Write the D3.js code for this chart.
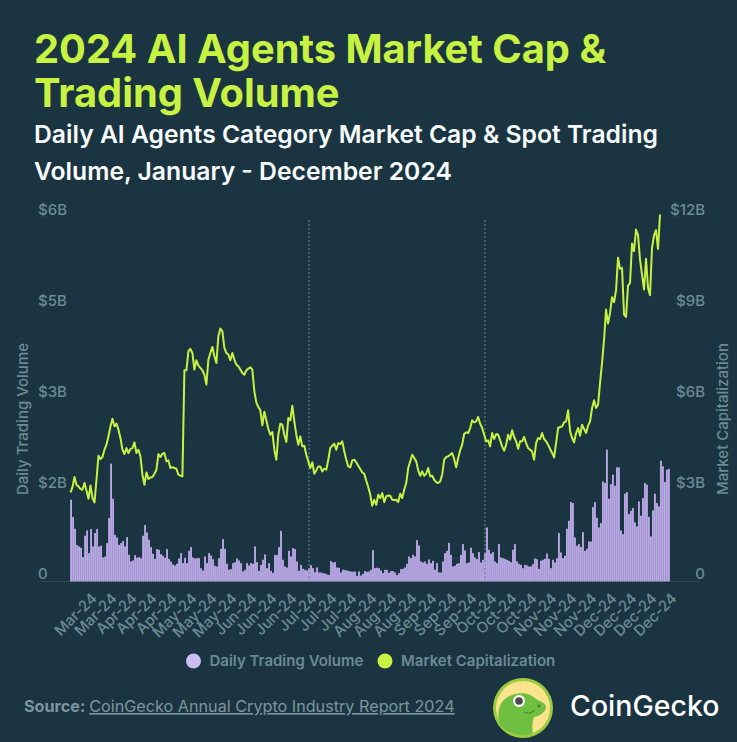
<!DOCTYPE html>
<html>
<head>
<meta charset="utf-8">
<script src="https://cdn.jsdelivr.net/npm/d3@7"></script>
<style>
  html, body { margin: 0; padding: 0; background: #1a3541; }
  svg { display: block; font-family: Inter, "Noto Sans", sans-serif; }
</style>
</head>
<body>
<div id="canvas"></div>
<script>
// Daily trading volume, $M, one value per day
const volume = [
  1348,1062,869,600,578,556,402,754,842,468,864,578,798,864,578,589,396,413,633,1045,
  1942,1364,770,726,605,633,666,578,732,440,330,347,435,391,402,385,754,930,809,688,
  567,457,374,534,523,451,424,391,534,374,330,281,264,292,380,468,303,391,303,506,
  567,396,380,385,385,220,182,413,303,468,429,369,259,248,385,539,699,539,292,193,
  204,303,319,380,347,303,165,193,303,264,303,292,578,319,176,275,358,446,220,303,
  176,143,440,435,567,836,358,248,231,506,413,550,534,330,176,275,209,193,182,220,
  270,220,154,231,149,149,138,132,116,110,336,314,319,231,226,149,193,187,182,171,
  165,160,165,94,165,99,127,171,160,165,193,517,220,226,220,182,138,193,193,143,
  171,171,149,105,138,204,209,231,292,413,385,440,413,682,594,330,314,330,292,363,
  303,341,193,303,149,149,330,468,506,638,440,248,259,292,303,440,616,512,303,314,
  556,468,396,369,484,314,358,468,891,523,457,484,330,303,616,396,385,374,358,341,
  319,523,616,330,292,275,220,275,264,248,248,286,380,369,209,341,358,374,462,374,
  220,358,314,385,798,479,385,424,869,1001,1309,1293,726,589,616,567,814,506,539,660,
  660,1227,1309,1051,891,963,1650,1623,2173,1364,1606,1760,1579,1881,1881,842,781,1447,1474,1111,
  1166,1210,974,908,1320,1084,1375,1623,1595,1062,743,1172,1447,1293,1238,1991,1898,1639,1843,1854
];

// Market cap, $M, the line stops a few days before the bars do
const marketCap = [
  2937,3113,3443,3179,3135,3047,3025,3245,3003,2728,3168,2750,2607,3355,4147,4037,4103,4345,4510,4785,
  5115,5368,5115,5203,5005,4730,4345,4202,4400,4235,4367,4400,4587,4235,4345,4125,3520,3190,3597,3377,
  3432,3443,3553,3685,4202,4103,4213,4235,3960,3993,3740,3773,3740,3718,3520,3487,3465,6963,6963,7590,
  7667,7535,6985,7293,7128,7040,6963,6820,6490,7315,7535,7733,7425,7205,8085,8338,8250,7700,7535,7480,
  7293,7535,7315,7150,7095,6985,6875,6820,6963,7018,7062,6985,6270,5907,5753,5643,5148,5599,5313,5027,
  4840,4928,4345,4015,4840,5203,5170,4840,4598,5390,5313,5797,5280,4840,4510,4785,4455,4477,4180,3960,
  3740,3927,3553,3663,3795,3795,3630,3718,3685,4015,4400,4477,4543,4345,4565,4532,4620,4290,4015,3795,
  3762,3993,4015,3927,3817,3707,3597,3553,3322,3113,2860,2497,2695,2530,2860,2750,2915,2618,2805,2838,
  2827,2695,2684,2695,2618,2893,2750,3025,3245,3740,3960,4180,4070,3960,3663,3487,3630,3487,3553,3740,
  3465,3487,3355,3278,3245,3300,3520,4015,4103,4125,4180,4235,4037,3762,4070,4323,4510,4862,4917,4895,
  5060,5313,5247,5280,5423,5203,5060,4840,4620,4653,4455,4895,4697,4862,4840,4653,4455,4312,4510,4840,
  4675,4983,4763,4620,4378,4620,4620,4763,4565,4400,4345,4290,4015,4565,4730,4697,4895,4697,4620,4510,
  4367,4235,4092,4565,5060,5093,5115,5247,5280,5643,4950,4730,4587,4895,5060,4807,5170,5027,4895,5137,
  5280,5720,5973,5720,5830,6545,7205,7975,8965,8503,8855,9372,9207,9603,10670,10307,10340,8800,8723,9757,
  9845,11143,10890,11605,11418,10615,10120,9625,10637,9680,9438,11000,11407,11583,10967,12100
];

// one x label every 10 days
const tickLabels = [
  "Mar-24","Mar-24","Apr-24","Apr-24","Apr-24","May-24","May-24","May-24","Jun-24","Jun-24",
  "Jun-24","Jul-24","Jul-24","Jul-24","Aug-24","Aug-24","Aug-24","Sep-24","Sep-24","Sep-24",
  "Oct-24","Oct-24","Oct-24","Nov-24","Nov-24","Nov-24","Dec-24","Dec-24","Dec-24","Dec-24"
];
const volumeTicks = [0, 1500, 3000, 4500, 6000];
const volumeTickLabels = ["0", "$2B", "$3B", "$5B", "$6B"];
const capTicks = [0, 3000, 6000, 9000, 12000];
const capTickLabels = ["0", "$3B", "$6B", "$9B", "$12B"];
const markerDays = [119, 207]; // dashed lines
const legendItems = ["Daily Trading Volume", "Market Capitalization"];

const BG = "#1a3541", LIME = "#c8f241", LILAC = "#bcaae8", MUTED = "#6b8a95";

const width = 737, height = 742;
const svg = d3.select("#canvas").append("svg")
    .attr("width", width)
    .attr("height", height);

svg.append("rect").attr("width", width).attr("height", height).attr("fill", BG);

// ****************** titles ***************************
[["2024 AI Agents Market Cap &", 63], ["Trading Volume", 107]].forEach(function(t) {
  svg.append("text").attr("x", 34).attr("y", t[1])
      .attr("font-size", 39.8).attr("font-weight", 700).attr("fill", LIME).text(t[0]);
});
[["Daily AI Agents Category Market Cap & Spot Trading", 143], ["Volume, January - December 2024", 180]].forEach(function(t) {
  svg.append("text").attr("x", 34).attr("y", t[1])
      .attr("font-size", 24.7).attr("font-weight", 600).attr("fill", "#f8fbfc").text(t[0]);
});

// ****************** scales ***************************
const x = d3.scaleBand().domain(d3.range(volume.length)).range([70, 670]).padding(0.08);
const xLine = d3.scalePoint().domain(d3.range(marketCap.length)).range([70.5, 660]);
const yVol = d3.scaleLinear().domain([0, 6000]).range([581.5, 217.5]);
const yCap = d3.scaleLinear().domain([0, 12000]).range([581.5, 217.5]);

// ****************** axes ***************************
const axisText = function(g) {
  g.select(".domain").remove();
  g.selectAll(".tick line").remove();
  g.selectAll("text").attr("fill", MUTED).attr("font-family", "Inter").attr("font-size", 15).attr("font-weight", 500);
};

svg.append("g")
    .attr("transform", "translate(38,0)")
    .call(d3.axisLeft(yVol).tickValues(volumeTicks).tickFormat((d, i) => volumeTickLabels[i]))
    .call(axisText)
    .selectAll("text").attr("x", 0).attr("dy", "-0.2em").attr("text-anchor", "start");

svg.append("g")
    .attr("transform", "translate(705,0)")
    .call(d3.axisRight(yCap).tickValues(capTicks).tickFormat((d, i) => capTickLabels[i]))
    .call(axisText)
    .selectAll("text").attr("x", 0).attr("dy", "-0.2em").attr("text-anchor", "end");

svg.append("line")
    .attr("x1", 37).attr("x2", 701)
    .attr("y1", yVol(0)).attr("y2", yVol(0))
    .attr("stroke", "#2c4854").attr("stroke-width", 1);

const tickDays = tickLabels.map((d, i) => 9 + i * 10);
svg.append("g")
    .attr("transform", "translate(0,581.5)")
    .call(d3.axisBottom(x).tickValues(tickDays).tickFormat(d => tickLabels[(d - 9) / 10]))
    .call(axisText)
    .selectAll("text")
    .attr("text-anchor", "end")
    .attr("transform", "translate(-5,4) rotate(-45)");

svg.append("text")
    .attr("transform", "translate(28,419) rotate(-90)")
    .attr("text-anchor", "middle")
    .attr("font-size", 15).attr("font-weight", 500).attr("fill", MUTED)
    .text("Daily Trading Volume");

svg.append("text")
    .attr("transform", "translate(728,419) rotate(-90)")
    .attr("text-anchor", "middle")
    .attr("font-size", 15).attr("font-weight", 500).attr("fill", MUTED)
    .text("Market Capitalization");

// ****************** marks ***************************
svg.append("g").selectAll("rect")
    .data(volume)
    .enter().append("rect")
    .attr("x", (d, i) => x(i))
    .attr("width", x.bandwidth())
    .attr("y", d => yVol(d))
    .attr("height", d => yVol(0) - yVol(d))
    .attr("fill", LILAC);

svg.append("g").selectAll("line")
    .data(markerDays)
    .enter().append("line")
    .attr("x1", d => x(d) + x.bandwidth() / 2)
    .attr("x2", d => x(d) + x.bandwidth() / 2)
    .attr("y1", 220)
    .attr("y2", yVol(0))
    .attr("stroke", "#6d8a96")
    .attr("stroke-width", 1)
    .attr("stroke-dasharray", "2,2");

const line = d3.line()
    .x((d, i) => xLine(i))
    .y(d => yCap(d));

svg.append("path")
    .attr("d", line(marketCap))
    .attr("fill", "none")
    .attr("stroke", LIME)
    .attr("stroke-width", 2)
    .attr("stroke-linejoin", "round");

// ****************** legend ***************************
const legendX = [193.5, 385];
const legendColors = ["#cdbdf3", LIME];
legendItems.forEach(function(name, i) {
  svg.append("circle").attr("cx", legendX[i]).attr("cy", 661).attr("r", 7.5).attr("fill", legendColors[i]);
  svg.append("text").attr("x", legendX[i] + 16).attr("y", 666)
      .attr("font-size", 15).attr("font-weight", 600).attr("fill", MUTED).text(name);
});

// ****************** footer ***************************
const source = svg.append("text").attr("x", 24).attr("y", 712)
    .attr("font-size", 16.2).attr("fill", "#7d959e");
source.append("tspan").attr("font-weight", 700).text("Source: ");
source.append("tspan").attr("text-decoration", "underline").text("CoinGecko Annual Crypto Industry Report 2024");

// logo
const logo = svg.append("g").attr("transform", "translate(523,708)");
logo.append("circle").attr("r", 30).attr("fill", "#9ccb3f");
logo.append("circle").attr("r", 27).attr("fill", "#f9e48c");
logo.append("path")
    .attr("d", "M-23,17 C-27,5 -24,-8 -13,-12 C-6,-16 6,-16 13,-9 C18,-6 23,-5 23,-1 C23,4 17,8 11,9 C9,14 9,21 10,25 C3,28 -3,27.5 -8,26 C-15,24 -20,21 -23,17 Z")
    .attr("fill", "#6fbf40");
logo.append("circle").attr("cx", -4).attr("cy", -7).attr("r", 6).attr("fill", "#fff");
logo.append("circle").attr("cx", -4).attr("cy", -7).attr("r", 3.8).attr("fill", "#4a4a4f");
logo.append("circle").attr("cx", 16).attr("cy", -2).attr("r", 1.4).attr("fill", "#3f7f2a");
logo.append("path").attr("d", "M1,4 C5,6 9,5 12,2").attr("fill", "none").attr("stroke", "#3f7f2a").attr("stroke-width", 1);

svg.append("text").attr("x", 570).attr("y", 716)
    .attr("font-size", 28.5).attr("font-weight", 500).attr("fill", "#fff").text("CoinGecko");
</script>
</body>
</html>
